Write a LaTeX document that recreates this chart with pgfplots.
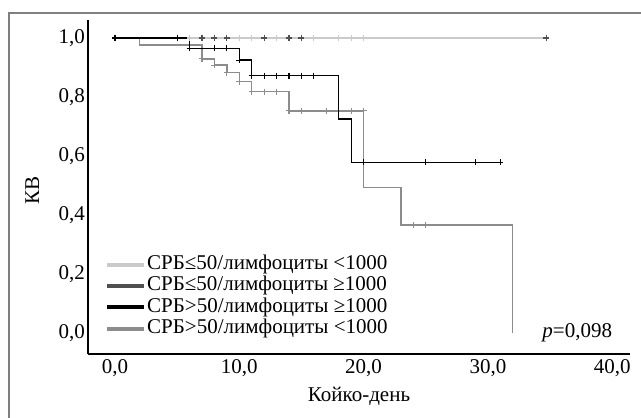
\documentclass[border=0pt]{standalone}
\usepackage{fontspec}
\setmainfont{Liberation Serif}
\usepackage{pgfplots}
\pgfplotsset{compat=1.18}
\definecolor{cLight}{HTML}{CACACA}
\definecolor{cDark}{HTML}{505050}
\definecolor{cMid}{HTML}{8C8C8C}
\definecolor{cFrame}{HTML}{7F7F7F}
\newcommand{\fs}{\fontsize{21bp}{25bp}\selectfont}
\begin{document}
\begin{tikzpicture}[x=1bp,y=1bp]
\useasboundingbox (0,0) rectangle (641,417);
\begin{scope}
\clip (0,0) rectangle (641,417);
\draw[cFrame, line width=2.7bp] (9,-20) -- (9,404) -- (700,404);
\end{scope}
\begin{axis}[
  at={(88bp,63bp)}, anchor=south west,
  scale only axis, width=542bp, height=334bp,
  xmin=-2.17, xmax=41.43, ymin=-0.071, ymax=1.061,
  axis x line*=bottom, axis y line*=left,
  axis line style={-, line width=1.2bp, black},
  xtick={0,10,20,30,40}, ytick={0,0.2,0.4,0.6,0.8,1},
  major tick length=0pt,
  /pgf/number format/fixed, /pgf/number format/fixed zerofill,
  /pgf/number format/precision=1, /pgf/number format/use comma,
  /pgf/number format/assume math mode=true,
  tick label style={font=\fs},
  xticklabel style={yshift=-2bp},
  yticklabel style={xshift=0.5bp},
  label style={font=\fs},
  xlabel={Койко-день}, ylabel={КВ},
  xlabel style={at={(axis description cs:0.5,-0.126)}, anchor=center},
  ylabel style={at={(axis description cs:-0.103,0.49)}, anchor=center},
  legend style={at={(axis description cs:0.0314,0.300)}, anchor=north west,
    draw=none, fill=none, font=\fs, inner sep=0pt, row sep=0bp,
    nodes={inner sep=1bp, text height=14.5bp, text depth=4.8bp}},
  legend cell align=left,
  legend image code/.code={\draw[#1, line width=4bp] (0bp,0bp) -- (37bp,0bp);},
  clip=false,
]
\addlegendimage{cLight}
\addlegendentry{СРБ≤50/лимфоциты <1000}
\addlegendimage{cDark}
\addlegendentry{СРБ≤50/лимфоциты ≥1000}
\addlegendimage{black}
\addlegendentry{СРБ>50/лимфоциты ≥1000}
\addlegendimage{cMid}
\addlegendentry{СРБ>50/лимфоциты <1000}

\addplot[cDark, line width=1.2bp, const plot, forget plot] coordinates {(0,1)(34.7,1)};
\addplot[cLight, line width=1.8bp, const plot, forget plot] coordinates {(0,1)(34.7,1)};
\addplot[cMid, line width=1.3bp, const plot, forget plot] coordinates {(0,1)(2,0.976)(7,0.929)(8,0.908)(9,0.882)(10,0.852)(11,0.818)(14,0.753)(20,0.493)(23,0.366)(32,0)};
\addplot[black, line width=1.3bp, const plot, forget plot] coordinates {(0,1)(6,0.965)(10,0.925)(11,0.872)(18,0.725)(19,0.579)(31,0.579)};

\addplot[only marks, mark=+, mark size=3bp, cLight, mark options={line width=1.1bp}, forget plot] coordinates {(6,1)(10,1)(11,1)(13,1)(16,1)(18,1)(19,1)(20,1)};
\addplot[only marks, mark=+, mark size=3bp, cDark, mark options={line width=1.1bp}, forget plot] coordinates {(7,1)(8,1)(9,1)(12,1)(14,1)(15,1)(34.7,1)};
\addplot[only marks, mark=+, mark size=3bp, cMid, mark options={line width=1.1bp}, forget plot] coordinates {(7,0.929)(8,0.908)(9,0.882)(10,0.852)(11,0.818)(12,0.818)(13,0.818)(14,0.753)(15,0.753)(17,0.753)(19,0.753)(20,0.753)(24,0.366)(25,0.366)};
\addplot[only marks, mark=+, mark size=3bp, black, mark options={line width=1.1bp}, forget plot] coordinates {(0,1)(5,1)(6,0.965)(8,0.965)(9,0.965)(10,0.925)(11,0.872)(12,0.872)(13,0.872)(14,0.872)(15,0.872)(16,0.872)(20,0.579)(25,0.579)(29,0.579)(31,0.579)};

\node[anchor=east, font=\fs, inner sep=0pt] at (axis cs:40,0) {\textit{p}=0,098};
\end{axis}
\end{tikzpicture}
\end{document}
